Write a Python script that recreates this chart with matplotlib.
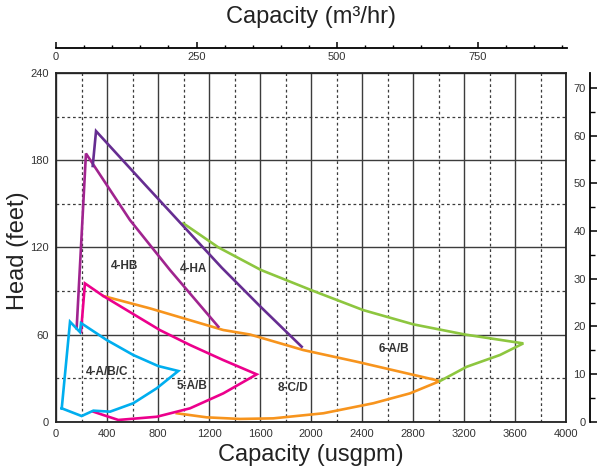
import numpy as np
import matplotlib
matplotlib.use('Agg')
import matplotlib.pyplot as plt
from matplotlib.ticker import MultipleLocator

plt.rcParams['font.family'] = ['Liberation Sans', 'DejaVu Sans']

# pump curves: capacity (usgpm), head (feet)
hb_q = [162, 235, 580, 894, 1273]
hb_h = [64.3, 184.6, 138.8, 104.4, 65.4]

ha_q = [288, 314, 700, 1000, 1300, 1600, 1927]
ha_h = [176, 200, 163, 134.5, 106, 79.5, 51.6]

ab_q = [196, 227, 371, 816, 1051, 1312, 1574, 1312, 1051, 790, 489, 371, 293]
ab_h = [61.8, 95.2, 86.5, 63.0, 52.8, 42.4, 32.6, 19.5, 9.2, 3.4, 1.2, 4.6, 6.9]

abc_q = [45, 110, 188, 196, 398, 606, 802, 959, 790, 606, 424, 293, 201, 45]
abc_h = [9.2, 68.8, 61.7, 67.9, 56.2, 45.9, 38.3, 34.9, 23.0, 12.7, 6.9, 7.6, 3.9, 9.2]

cd_q = [371, 737, 1312, 1522, 1940, 2358, 2751, 3012,
        2776, 2489, 2097, 1704, 1443, 1182, 947]
cd_h = [86.5, 78.0, 63.1, 60.0, 49.3, 41.3, 33.3, 28.0,
        19.5, 12.7, 5.8, 2.3, 1.9, 3.0, 5.8]

six_q = [999, 1273, 1608, 2018, 2410, 2803, 3208, 3665, 3482, 3221, 3012]
six_h = [136.5, 120.0, 104.4, 90.0, 76.8, 67.0, 60.0, 53.9, 45.9, 37.8, 28.0]

labels = ['4-HB', '4-HA', '4-A/B/C', '5-A/B', '8-C/D', '6-A/B']
label_q = [541, 1077, 398, 1064, 1856, 2653]
label_h = [107, 104.8, 34.4, 24.8, 23, 49.8]

W, H = 597, 473
fig = plt.figure(figsize=(W / 100, H / 100), dpi=100, facecolor='w')

ax = fig.add_axes([56 / W, 1 - 421.7 / H, 510 / W, 348.7 / H])
ax.set_xlim(0, 4000)
ax.set_ylim(0, 240)
ax.xaxis.set_major_locator(MultipleLocator(400))
ax.xaxis.set_minor_locator(MultipleLocator(200))
ax.yaxis.set_major_locator(MultipleLocator(60))
ax.yaxis.set_minor_locator(MultipleLocator(30))
ax.grid(which='major', color='#3c3c3c', lw=1.0, ls='-')
ax.grid(which='minor', color='#3c3c3c', lw=0.9, ls=(0, (2.2, 2.2)))
ax.set_axisbelow(True)
ax.tick_params(which='both', length=0, labelsize=8, labelcolor='#333333', pad=5)
for s in ax.spines.values():
    s.set_linewidth(1.3)
    s.set_color('#222222')

kw = dict(lw=1.9, solid_joinstyle='miter', clip_on=False)
ax.plot(cd_q, cd_h, color='#f7941d', **kw)
ax.plot(six_q, six_h, color='#8dc63f', **kw)
ax.plot(hb_q, hb_h, color='#a0248f', **kw)
ax.plot(ha_q, ha_h, color='#662d91', **kw)
ax.plot(ab_q, ab_h, color='#ec008c', **kw)
ax.plot(abc_q, abc_h, color='#00aeef', **kw)

for t, q, h in zip(labels, label_q, label_h):
    ax.text(q, h, t, fontsize=8.5, fontweight='bold', color='#333333',
            ha='center', va='center')

ax.set_xlabel('Capacity (usgpm)', fontsize=17, color='#222222', labelpad=4)
ax.set_ylabel('Head (feet)', fontsize=17, color='#222222')
ax.yaxis.set_label_coords(-0.053, 0.49)

# top axis in m3/hr
axt = fig.add_axes([56 / W, 1 - 47.7 / H, 510.7 / W, 0.0001])
axt.set_xlim(0, 4000 * 0.227125)
axt.patch.set_visible(False)
axt.set_yticks([])
for k in ['left', 'right', 'top']:
    axt.spines[k].set_visible(False)
axt.spines['bottom'].set_linewidth(1.3)
axt.xaxis.set_major_locator(MultipleLocator(250))
axt.xaxis.set_minor_locator(MultipleLocator(50))
axt.tick_params(which='major', direction='in', length=4.5, width=1.1,
                labelsize=8, labelcolor='#333333', pad=3)
axt.tick_params(which='minor', direction='in', length=2.3, width=1.0)
fig.text(311 / W, 1 - 17 / H, 'Capacity (m\u00b3/hr)', fontsize=17,
         color='#222222', ha='center', va='center')

# right axis in metres
axr = fig.add_axes([590 / W, 1 - 421.7 / H, 0.0001, 348.7 / H])
axr.set_ylim(0, 240 * 0.3048)
axr.patch.set_visible(False)
axr.set_xticks([])
for k in ['bottom', 'right', 'top']:
    axr.spines[k].set_visible(False)
axr.spines['left'].set_linewidth(1.3)
axr.yaxis.set_major_locator(MultipleLocator(10))
axr.yaxis.set_minor_locator(MultipleLocator(5))
axr.tick_params(which='major', direction='in', length=4.8, width=1.1,
                labelsize=8, labelcolor='#333333', pad=3)
axr.tick_params(which='minor', direction='in', length=3.5, width=1.0)

plt.savefig('out.png', dpi=100)
